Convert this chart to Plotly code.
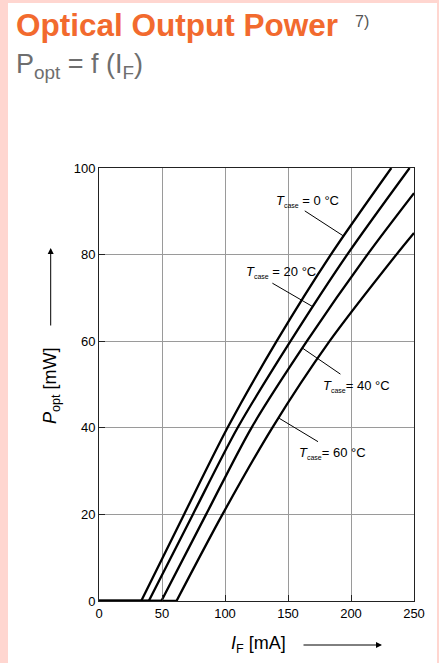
import plotly.graph_objects as go

# ---- data ----
current_0C = [0, 33.5, 67.5, 102, 141, 184, 232]
power_0C = [0, 0, 20, 40, 60, 80, 100]
current_20C = [0, 39.5, 74.5, 110, 152, 197, 246.5]
power_20C = [0, 0, 20, 40, 60, 80, 100]
current_40C = [0, 49.5, 85, 121, 165, 213, 250]
power_40C = [0, 0, 20, 40, 60, 80, 94.2]
current_60C = [0, 61.5, 98, 137.5, 183, 236, 250]
power_60C = [0, 0, 20, 40, 60, 80, 85]

x_ticks = [0, 50, 100, 150, 200, 250]
y_ticks = [0, 20, 40, 60, 80, 100]

W, H = 439, 663
ML, MR, MT, MB = 99, 25, 168, 62
PW, PH = W - ML - MR, H - MT - MB
FONT = "Arial, Liberation Sans, Helvetica, sans-serif"


def fx(p):
    return (p - ML) / PW


def fy(p):
    return (H - MB - p) / PH


fig = go.Figure()
for xs, ys in [(current_0C, power_0C), (current_20C, power_20C),
               (current_40C, power_40C), (current_60C, power_60C)]:
    # flat part below threshold
    fig.add_trace(go.Scatter(x=xs[:2], y=ys[:2], mode="lines",
                             line=dict(color="black", width=2.3),
                             showlegend=False, hoverinfo="skip"))
    # rising part above threshold, smoothed
    fig.add_trace(go.Scatter(x=xs[1:], y=ys[1:], mode="lines",
                             line=dict(color="black", width=2.3,
                                       shape="spline", smoothing=0.8),
                             showlegend=False, hoverinfo="skip"))

axis_common = dict(showgrid=True, gridcolor="#9a9a9a", gridwidth=1,
                   showline=True, linecolor="#222", linewidth=1, mirror=True,
                   ticks="inside", ticklen=6, tickcolor="#222",
                   tickfont=dict(family=FONT, size=13, color="black"),
                   zeroline=False, fixedrange=True)

fig.update_xaxes(range=[0, 250], tickvals=x_ticks, **axis_common)
fig.update_yaxes(range=[0, 100], tickvals=y_ticks, **axis_common)

shapes = []
# page background pink frame
pink = "#FFD6D0"
for (x0, y0, x1, y1) in [(0, 0, 8, H), (0, 0, W, 3), (437, 0, W, H)]:
    shapes.append(dict(type="rect", xref="paper", yref="paper",
                       x0=fx(x0), x1=fx(x1), y0=fy(y1), y1=fy(y0),
                       fillcolor=pink, line=dict(width=0), layer="below"))
# pointer lines for curve labels (data coords)
for (a, b, c, d) in [(163.3, 90.1, 194, 84.3), (137.6, 73.4, 169.5, 68.0),
                     (161.5, 58.4, 191.6, 52.4), (143.0, 42.2, 173.8, 36.8)]:
    shapes.append(dict(type="line", xref="x", yref="y", x0=a, y0=b, x1=c, y1=d,
                       line=dict(color="black", width=1)))

annotations = []


def label(px, py, text, size=13, color="black", anchor="left", angle=0):
    annotations.append(dict(xref="paper", yref="paper", x=fx(px), y=fy(py),
                            text=text, showarrow=False, xanchor=anchor,
                            yanchor="middle", textangle=angle,
                            font=dict(family=FONT, size=size, color=color)))


sub = "<sub><span style='font-size:7px'>case</span></sub>"
label(274, 201, "<i>T</i>" + sub + " = 0 °C")
label(244, 272, "<i>T</i>" + sub + " = 20 °C")
label(321, 386, "<i>T</i>" + sub + "= 40 °C")
label(297, 453, "<i>T</i>" + sub + "= 60 °C")

# title texts
annotations.append(dict(xref="paper", yref="paper", x=fx(14), y=fy(25),
                        text="<b>Optical Output Power</b>", showarrow=False,
                        xanchor="left", yanchor="middle",
                        font=dict(family=FONT, size=31.5, color="#F26A2E")))
label(353, 21, "7)", size=16, color="#555555")
label(14, 66, "P<sub>opt</sub> = f (I<sub>F</sub>)", size=27, color="#6E6E6E")

# axis titles
label(51, 385, "<i>P</i><sub>opt</sub> [mW]", size=18, anchor="center", angle=-90)
label(258, 644, "<i>I</i><sub>F</sub> [mA]", size=18, anchor="center")

# arrows
annotations.append(dict(xref="paper", yref="paper", x=fx(50.7), y=fy(248),
                        ax=0, ay=79, axref="pixel", ayref="pixel", text="",
                        showarrow=True, arrowhead=2, arrowsize=1.2,
                        arrowwidth=1, arrowcolor="black"))
annotations.append(dict(xref="paper", yref="paper", x=fx(382), y=fy(645),
                        ax=-80, ay=0, axref="pixel", ayref="pixel", text="",
                        showarrow=True, arrowhead=2, arrowsize=1.2,
                        arrowwidth=1, arrowcolor="black"))

fig.update_layout(width=W, height=H,
                  margin=dict(l=ML, r=MR, t=MT, b=MB, autoexpand=False),
                  paper_bgcolor="white", plot_bgcolor="white",
                  shapes=shapes, annotations=annotations,
                  font=dict(family=FONT))

fig.write_html("out.html", config={"displayModeBar": False})
